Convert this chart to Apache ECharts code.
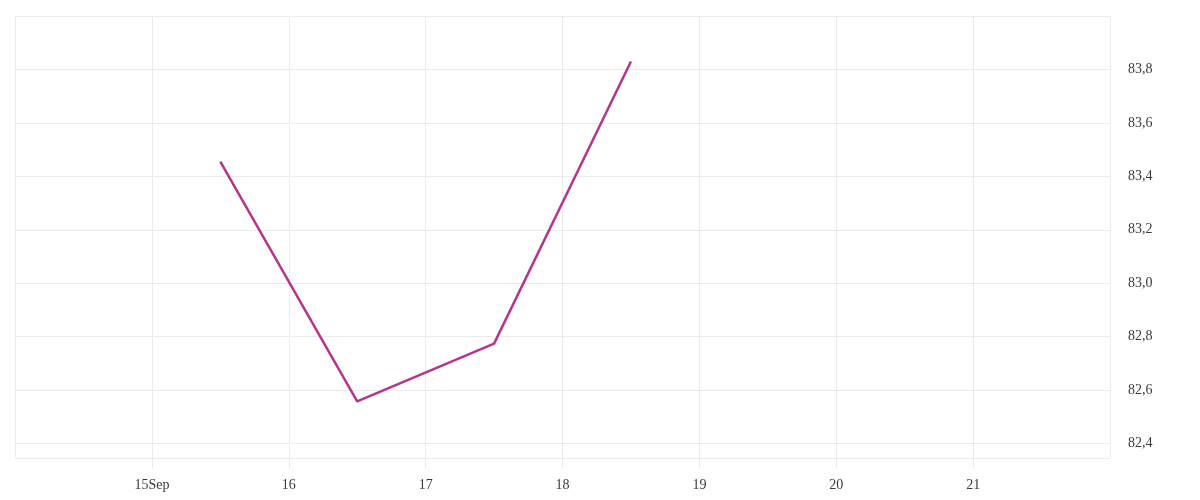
<!DOCTYPE html>
<html>
<head>
<meta charset="utf-8">
<script src="https://cdn.jsdelivr.net/npm/echarts@6/dist/echarts.min.js"></script>
<style>
html,body{margin:0;padding:0;background:#fff;}
#chart{width:1200px;height:500px;}
</style>
</head>
<body>
<div id="chart"></div>
<script>
// Data
var dates = ['2024-09-15T12:00:00Z', '2024-09-16T12:00:00Z', '2024-09-17T12:00:00Z', '2024-09-18T12:00:00Z'];
var values = [83.455, 82.558, 82.774, 83.83];
var xMin = '2024-09-14T00:00:00Z';
var xMax = '2024-09-22T00:00:00Z';
var yMin = 82.346;
var yMax = 84.0;

var DAY = 86400000;
var seriesData = dates.map(function (d, i) { return [Date.parse(d), values[i]]; });

var chart = echarts.init(document.getElementById('chart'));
var fontFamily = '"Liberation Serif", "DejaVu Serif", serif';
var gridColor = '#ebebeb';

chart.setOption({
  animation: false,
  grid: { left: 15, right: 90, top: 16, bottom: 42 },
  xAxis: {
    type: 'value',
    min: Date.parse(xMin),
    max: Date.parse(xMax),
    interval: DAY,
    axisLine: { show: false },
    axisTick: { show: true, length: 10, lineStyle: { color: gridColor, width: 1 } },
    splitLine: { show: true, lineStyle: { color: gridColor, width: 1 } },
    axisLabel: {
      showMinLabel: false,
      showMaxLabel: false,
      margin: 20,
      color: '#3a3a3a',
      fontFamily: fontFamily,
      fontSize: 14,
      formatter: function (v) {
        var d = new Date(v);
        var day = d.getUTCDate();
        return day === 15 ? day + 'Sep' : String(day);
      }
    }
  },
  yAxis: {
    type: 'value',
    position: 'right',
    min: yMin,
    max: yMax,
    splitNumber: 8,
    axisLine: { show: false },
    axisTick: { show: false },
    splitLine: { show: true, lineStyle: { color: gridColor, width: 1 } },
    axisLabel: {
      showMinLabel: false,
      showMaxLabel: false,
      margin: 18,
      padding: [6, 0, 0, 0],
      color: '#3a3a3a',
      fontFamily: fontFamily,
      fontSize: 14,
      formatter: function (v) {
        return v.toFixed(1).replace('.', ',');
      }
    }
  },
  series: [{
    type: 'line',
    data: seriesData,
    showSymbol: false,
    symbol: 'none',
    lineStyle: { color: '#b5358c', width: 2.5 },
    itemStyle: { color: '#b5358c' }
  }]
});
</script>
</body>
</html>
